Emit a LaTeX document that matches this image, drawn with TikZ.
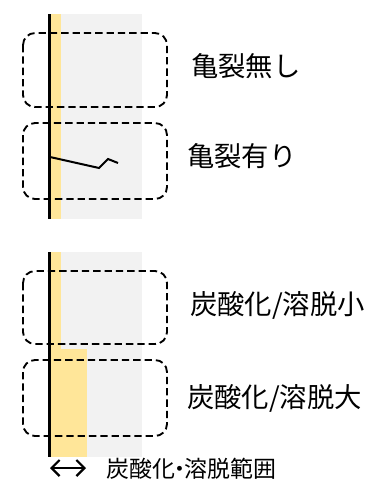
\documentclass[tikz,border=0pt]{standalone}
\usepackage{fontspec}
\newfontfamily\jp{Noto Sans CJK JP}
\usetikzlibrary{arrows.meta}
\definecolor{bggray}{HTML}{F2F2F2}
\definecolor{zone}{HTML}{FFE699}
\tikzset{
  dbox/.style={draw, dash pattern=on 5.5pt off 3pt, line width=1.4pt, rounded corners=9pt},
  lbl/.style={font=\jp\fontsize{20.5}{24}\selectfont, anchor=west, inner sep=0pt},
  small/.style={font=\jp\fontsize{17.2}{20}\selectfont, anchor=west, inner sep=0pt},
  wall/.style={line width=2.4pt},
  tip/.style={Straight Barb[length=5pt,width=10pt,line width=1.6pt]},
}
\begin{document}
\begin{tikzpicture}[x=0.75pt,y=-0.75pt]
\useasboundingbox (0,0) rectangle (380,482);
% top panel
\fill[bggray] (49,14) rectangle (142,219);
\fill[zone] (51,14) rectangle (61,219);
\draw[wall] (49.5,14) -- (49.5,219);
\coordinate (c0) at (50,157);
\coordinate (c1) at (99,168);
\coordinate (c2) at (108,159);
\coordinate (c3) at (118,163);
\draw[line width=1.5pt] (c0) -- (c1) -- (c2) -- (c3);
\draw[dbox] (23,33) rectangle (167,107);
\draw[dbox] (23,123) rectangle (167,199);
\node[lbl] (t1) at (191,66) {亀裂無し};
\node[lbl] (t2) at (187,156) {亀裂有り};
% bottom panel
\fill[bggray] (49,252) rectangle (142,457);
\fill[zone] (51,252) rectangle (61,349);
\fill[zone] (51,349) rectangle (87,457);
\draw[wall] (49.5,252) -- (49.5,457);
\draw[dbox] (23,271) rectangle (167,344);
\draw[dbox] (23,360) rectangle (167,436);
\node[lbl] (t3) at (190,305) {炭酸化/溶脱小};
\node[lbl] (t4) at (187,398) {炭酸化/溶脱大};
\coordinate (a0) at (50,468);
\coordinate (a1) at (86,468);
\draw[line width=1.6pt, {Straight Barb[length=6pt,width=12pt]}-{Straight Barb[length=6pt,width=12pt]}] (a0) -- (a1);
\node[small] (t5) at (106,469) {炭酸化\kern-0.3em・\kern-0.3em溶脱範囲};
\end{tikzpicture}
\end{document}
